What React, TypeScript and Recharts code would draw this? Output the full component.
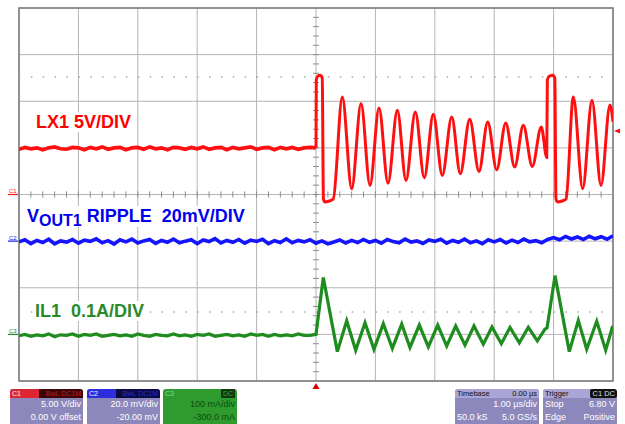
import React from 'react';
import {
  LineChart,
  Line,
  XAxis,
  YAxis,
  CartesianGrid,
  ReferenceLine,
  ReferenceDot,
  ReferenceArea,
} from 'recharts';

// screen: 10 div x 1.00 us/div; the grid rows follow C1 (5 V/div, 8 div)
const timeTicks = [-5, -4, -3, -2, -1, 0, 1, 2, 3, 4, 5];
const voltTicks = [-20, -15, -10, -5, 0, 5, 10, 15, 20];
const minorTimeTicks = Array.from({ length: 49 }, (_, i) => -4.8 + i * 0.2);
const minorVoltTicks = Array.from({ length: 39 }, (_, i) => -19 + i);
const CURSOR_V = 12.6;

// idle samples are taken every 0.1 us starting at -5 us
const SAMPLE_STEP = 0.1;

// C1  LX1, volts (5 V/div, 0 V offset)
const lxIdle = [
  4.85, 5.05, 4.9, 5.0, 4.8, 5.0, 5.1, 4.9, 4.85, 5.05,
  5.0, 4.8, 5.05, 4.9, 5.1, 4.85, 5.0, 5.05, 4.8, 5.0,
  5.05, 4.85, 5.1, 4.9, 5.0, 4.8, 5.05, 5.0, 4.85, 5.05,
  4.9, 5.1, 4.85, 5.0, 5.05, 4.8, 5.05, 4.9, 5.0, 5.1,
  4.85, 5.0, 5.05, 4.8, 5.05, 4.9, 5.05, 4.85, 5.0, 5.05, 5.0,
];
const lxBurst: [number, number][] = [
  [0.0, 5.0], [0.005, 12.3], [0.03, 12.7], [0.07, 12.8], [0.105, 12.5], [0.125, -0.5],
  [0.15, -0.8], [0.22, -0.7], [0.29, -0.5], [0.443, 10.46], [0.601, 0.61],
  [0.758, 9.75], [0.909, 0.97], [1.061, 9.28], [1.212, 1.21], [1.369, 9.03],
  [1.515, 1.51], [1.672, 8.85], [1.823, 1.8], [1.975, 8.6], [2.126, 2.04],
  [2.285, 8.31], [2.429, 2.23], [2.588, 8.06], [2.744, 2.47], [2.891, 7.78],
  [3.042, 2.65], [3.194, 7.67], [3.345, 2.94], [3.49, 7.42], [3.641, 3.01],
  [3.793, 7.24], [3.884, 3.98], [3.895, 12.3], [3.93, 12.7], [3.99, 12.8],
  [4.02, 12.5], [4.04, -0.5], [4.07, -0.8], [4.14, -0.7], [4.21, -0.5],
  [4.332, 10.46], [4.49, 0.61], [4.646, 10.1], [4.798, 0.97], [4.949, 9.6],
  [5.0, 7.8],
];

// C2  VOUT1 ripple, millivolts (20 mV/div, -20 mV offset)
const rippleMv = [
  -0.3, 0.6, -1.1, 0.3, -0.6, 0.8, -1.2, 0.1, -0.4, 0.7,
  -0.9, 0.4, -0.1, 1.0, -0.7, 0.2, -1.3, 0.6, -0.3, 0.9,
  -0.8, 0.1, 0.7, -1.0, 0.3, -0.5, 0.9, -0.7, 0.0, 0.6,
  -1.1, 0.5, -0.2, 1.1, -0.8, 0.3, -0.5, 0.7, -0.9, 0.4,
  -0.1, 0.8, -1.1, 0.2, -0.6, 1.0, -0.7, 0.3, -0.3, 0.6,
  -0.9, 0.1, -1.2, -0.4, 0.5, -0.8, 0.3, -0.6, 0.7, -0.5,
  0.3, -0.9, 0.7, -0.2, -0.7, 0.9, -0.4, 0.1, -1.0, 0.5,
  -0.1, 0.8, -0.9, 0.3, -0.5, 0.9, -0.7, 0.1, -1.1, 0.6,
  -0.3, 0.7, -0.8, 0.4, -0.6, 0.9, -0.3, 0.2, -0.7, 0.7,
  1.5, 0.6, 2.0, 0.9, 1.8, 0.7, 2.1, 1.0, 1.9, 0.8, 2.3,
];

// C3  IL1, milliamps (100 mA/div, -300 mA offset)
const ilIdle = [
  -3, 0, -4, -1, -3, 1, -5, -1, -2, 1,
  -4, 0, -2, 1, -4, -2, 0, -3, -1, -4,
  1, -2, -4, 0, -2, -3, 1, -3, -1, -4,
  0, -2, 1, -4, -2, 0, -3, -1, -4, 1,
  -2, 0, -4, 0, -3, -1, -3, 1, -2, -2, 0,
];
const ilBurst: [number, number][] = [
  [0.0, 0], [0.123, 122], [0.359, -37], [0.517, 29], [0.668, -34], [0.825, 25],
  [0.976, -32], [1.133, 23], [1.285, -30], [1.443, 22], [1.582, -28],
  [1.739, 20], [1.891, -27], [2.049, 20], [2.2, -25], [2.352, 18],
  [2.508, -23], [2.66, 18], [2.816, -21], [2.963, 16], [3.12, -20],
  [3.266, 15], [3.423, -18], [3.574, 15], [3.726, -14], [3.855, 11],
  [3.89, 14], [4.024, 126], [4.264, -37], [4.416, 30], [4.557, -32],
  [4.726, 28], [4.877, -34], [4.995, 18],
];

const TRIGGER_LEVEL_V = 6.8;

const RED = '#ff1010';
const BLUE = '#1414ff';
const GREEN = '#1e8c1e';

const idleToPoints = (vals: number[]) =>
  vals.map((v, i) => ({ t: -5 + i * SAMPLE_STEP, v }));
const pairsToPoints = (pairs: [number, number][]) =>
  pairs.map(([t, v]) => ({ t, v }));

const lxIdleData = idleToPoints(lxIdle);
const lxBurstData = pairsToPoints(lxBurst);
const rippleData = idleToPoints(rippleMv);
const ilData = [...idleToPoints(ilIdle), ...pairsToPoints(ilBurst)];

const groundMarker = (label: string, color: string) => (p: any) => (
  <g>
    <line x1={p.cx - 11} x2={p.cx - 1} y1={p.cy} y2={p.cy} stroke={color} strokeWidth={1.2} />
    <text x={p.cx - 10} y={p.cy - 1.5} fontSize={6} fill={color} fontFamily="Liberation Sans, Arial, sans-serif">
      {label}
    </text>
  </g>
);

const LAVENDER = '#8c88bc';
const boxText: React.CSSProperties = {
  fontSize: 9,
  lineHeight: '13px',
  padding: '0 2px',
  display: 'flex',
  justifyContent: 'space-between',
  whiteSpace: 'pre',
};

function ChannelBox(props: {
  left: number;
  name: string;
  tag: string;
  head: string;
  headDark: string;
  tagColor: string;
  rows: string[];
}) {
  return (
    <div style={{ position: 'absolute', left: props.left, top: 389, width: 73, height: 38, background: LAVENDER, borderRadius: 3, overflow: 'hidden' }}>
      <div style={{ display: 'flex', height: 9, fontSize: 7, lineHeight: '9px' }}>
        <div style={{ width: 27, background: props.head, color: '#fff', paddingLeft: 2, opacity: 0.9 }}>{props.name}</div>
        <div style={{ flex: 1, background: props.headDark, color: props.tagColor, textAlign: 'right', paddingRight: 2 }}>{props.tag}</div>
      </div>
      {props.rows.map((r) => (
        <div key={r} style={{ ...boxText, justifyContent: 'flex-end', color: '#fff' }}>{r}</div>
      ))}
    </div>
  );
}

export default function App() {
  return (
    <div style={{ position: 'absolute', left: 0, top: 0, width: 625, height: 424, background: '#fff', overflow: 'hidden', fontFamily: 'Liberation Sans, Arial, sans-serif' }}>
      <LineChart width={625} height={424} margin={{ top: 8, right: 12, bottom: 43, left: 19 }}>
        <XAxis dataKey="t" type="number" domain={[-5, 5]} ticks={timeTicks} hide allowDataOverflow />
        <YAxis yAxisId="v" type="number" domain={[-20, 20]} ticks={voltTicks} hide allowDataOverflow />
        <YAxis yAxisId="mv" type="number" domain={[-60, 100]} hide allowDataOverflow />
        <YAxis yAxisId="ma" type="number" domain={[-100, 700]} hide allowDataOverflow />
        <CartesianGrid yAxisId="v" stroke="#b4b4b4" strokeWidth={1} />
        <ReferenceLine yAxisId="v" y={CURSOR_V} stroke="#a8a8a8" strokeDasharray="1.5 10.38" strokeWidth={1.5} />
        <ReferenceLine yAxisId="v" y={-CURSOR_V} stroke="#a8a8a8" strokeDasharray="1.5 10.38" strokeWidth={1.5} />
        {minorTimeTicks.map((t) => (
          <ReferenceLine key={'mt' + t} yAxisId="v" segment={[{ x: t, y: -0.33 }, { x: t, y: 0.33 }]} stroke="#8c8c8c" ifOverflow="visible" />
        ))}
        {minorVoltTicks.map((d) => (
          <ReferenceLine key={'md' + d} yAxisId="v" segment={[{ x: -0.05, y: d }, { x: 0.05, y: d }]} stroke="#8c8c8c" ifOverflow="visible" />
        ))}
        <ReferenceArea yAxisId="v" x1={-5} x2={5} y1={-20} y2={20} fill="none" fillOpacity={0} stroke="#7a7a7a" strokeWidth={1.5} />
        <Line data={rippleData} dataKey="v" yAxisId="mv" type="linear" stroke={BLUE} strokeWidth={3.6} dot={false} isAnimationActive={false} />
        <Line data={ilData} dataKey="v" yAxisId="ma" type="linear" stroke={GREEN} strokeWidth={3.2} dot={false} isAnimationActive={false} />
        <Line data={lxIdleData} dataKey="v" yAxisId="v" type="linear" stroke={RED} strokeWidth={3.6} dot={false} isAnimationActive={false} />
        <Line data={lxBurstData} dataKey="v" yAxisId="v" type="monotone" stroke={RED} strokeWidth={3} dot={false} isAnimationActive={false} />
        <ReferenceDot x={-5} y={0} yAxisId="v" r={0} ifOverflow="visible" shape={groundMarker('C1', RED)} />
        <ReferenceDot x={-5} y={0} yAxisId="mv" r={0} ifOverflow="visible" shape={groundMarker('C2', BLUE)} />
        <ReferenceDot x={-5} y={0} yAxisId="ma" r={0} ifOverflow="visible" shape={groundMarker('C3', GREEN)} />
        <ReferenceDot
          x={5}
          y={TRIGGER_LEVEL_V}
          yAxisId="v"
          r={0}
          ifOverflow="visible"
          shape={(p: any) => (
            <path d={`M${p.cx + 1},${p.cy} L${p.cx + 7},${p.cy - 2.5} L${p.cx + 7},${p.cy + 2.5} Z`} fill={RED} />
          )}
        />
        <ReferenceDot
          x={0}
          y={-20}
          yAxisId="v"
          r={0}
          ifOverflow="visible"
          shape={(p: any) => (
            <path d={`M${p.cx - 3.5},${p.cy + 8} L${p.cx + 3.5},${p.cy + 8} L${p.cx},${p.cy + 2} Z`} fill="#e00000" />
          )}
        />
      </LineChart>

      <div style={{ position: 'absolute', left: 34, top: 112, fontSize: 18, fontWeight: 'bold', lineHeight: '18px', color: '#ff0000', background: '#fff', padding: '1px 2px', whiteSpace: 'pre' }}>
        LX1 5V/DIV
      </div>
      <div style={{ position: 'absolute', left: 25, top: 206, fontSize: 18, fontWeight: 'bold', lineHeight: '18px', color: '#0000ee', background: '#fff', padding: '1px 2px', whiteSpace: 'pre' }}>
        V<span style={{ fontSize: 16, position: 'relative', top: 4 }}>OUT1</span> RIPPLE  20mV/DIV
      </div>
      <div style={{ position: 'absolute', left: 33, top: 301, fontSize: 18, fontWeight: 'bold', lineHeight: '18px', color: '#2a8a2a', background: '#fff', padding: '1px 2px', whiteSpace: 'pre' }}>
        IL1  0.1A/DIV
      </div>

      <ChannelBox left={10} name="C1" tag="BwL DC1M" head="#e51c23" headDark="#3c0608" tagColor="#c01a22" rows={['5.00 V/div', '0.00 V offset']} />
      <ChannelBox left={87} name="C2" tag="BwL DC1M" head="#2424e0" headDark="#0a0a44" tagColor="#2a2ad0" rows={['20.0 mV/div', '-20.00 mV']} />

      <div style={{ position: 'absolute', left: 163, top: 389, width: 74, height: 38, background: '#2f9b2f', borderRadius: 3, overflow: 'hidden' }}>
        <div style={{ display: 'flex', justifyContent: 'space-between', height: 9, fontSize: 7, lineHeight: '9px', padding: '0 2px' }}>
          <span style={{ color: '#8fd88f' }}>C3</span>
          <span style={{ background: '#0f3a0f', color: '#3aa03a', padding: '0 2px' }}>DC</span>
        </div>
        <div style={{ ...boxText, justifyContent: 'flex-end', color: '#0c4a0c' }}>100 mA/div</div>
        <div style={{ ...boxText, justifyContent: 'flex-end', color: '#0c4a0c' }}>-300.0 mA</div>
      </div>

      <div style={{ position: 'absolute', left: 455, top: 389, width: 84, height: 38, background: LAVENDER, borderRadius: 3, overflow: 'hidden' }}>
        <div style={{ display: 'flex', justifyContent: 'space-between', height: 9, fontSize: 7.5, lineHeight: '9px', padding: '0 2px', background: '#a9a5d4', color: '#111' }}>
          <span>Timebase</span>
          <span>0.00 µs</span>
        </div>
        <div style={{ ...boxText, justifyContent: 'flex-end', color: '#fff' }}>1.00 µs/div</div>
        <div style={{ ...boxText, color: '#fff' }}>
          <span>50.0 kS</span>
          <span>5.0 GS/s</span>
        </div>
      </div>

      <div style={{ position: 'absolute', left: 543, top: 389, width: 74, height: 38, background: LAVENDER, borderRadius: 3, overflow: 'hidden' }}>
        <div style={{ display: 'flex', justifyContent: 'space-between', height: 9, fontSize: 7.5, lineHeight: '9px', padding: '0 0 0 2px', background: '#a9a5d4', color: '#111' }}>
          <span>Trigger</span>
          <span style={{ background: '#111', color: '#ddd', padding: '0 2px', borderRadius: 2 }}>C1 DC</span>
        </div>
        <div style={{ ...boxText, color: '#fff' }}>
          <span>Stop</span>
          <span>6.80 V</span>
        </div>
        <div style={{ ...boxText, color: '#fff' }}>
          <span>Edge</span>
          <span>Positive</span>
        </div>
      </div>
    </div>
  );
}
